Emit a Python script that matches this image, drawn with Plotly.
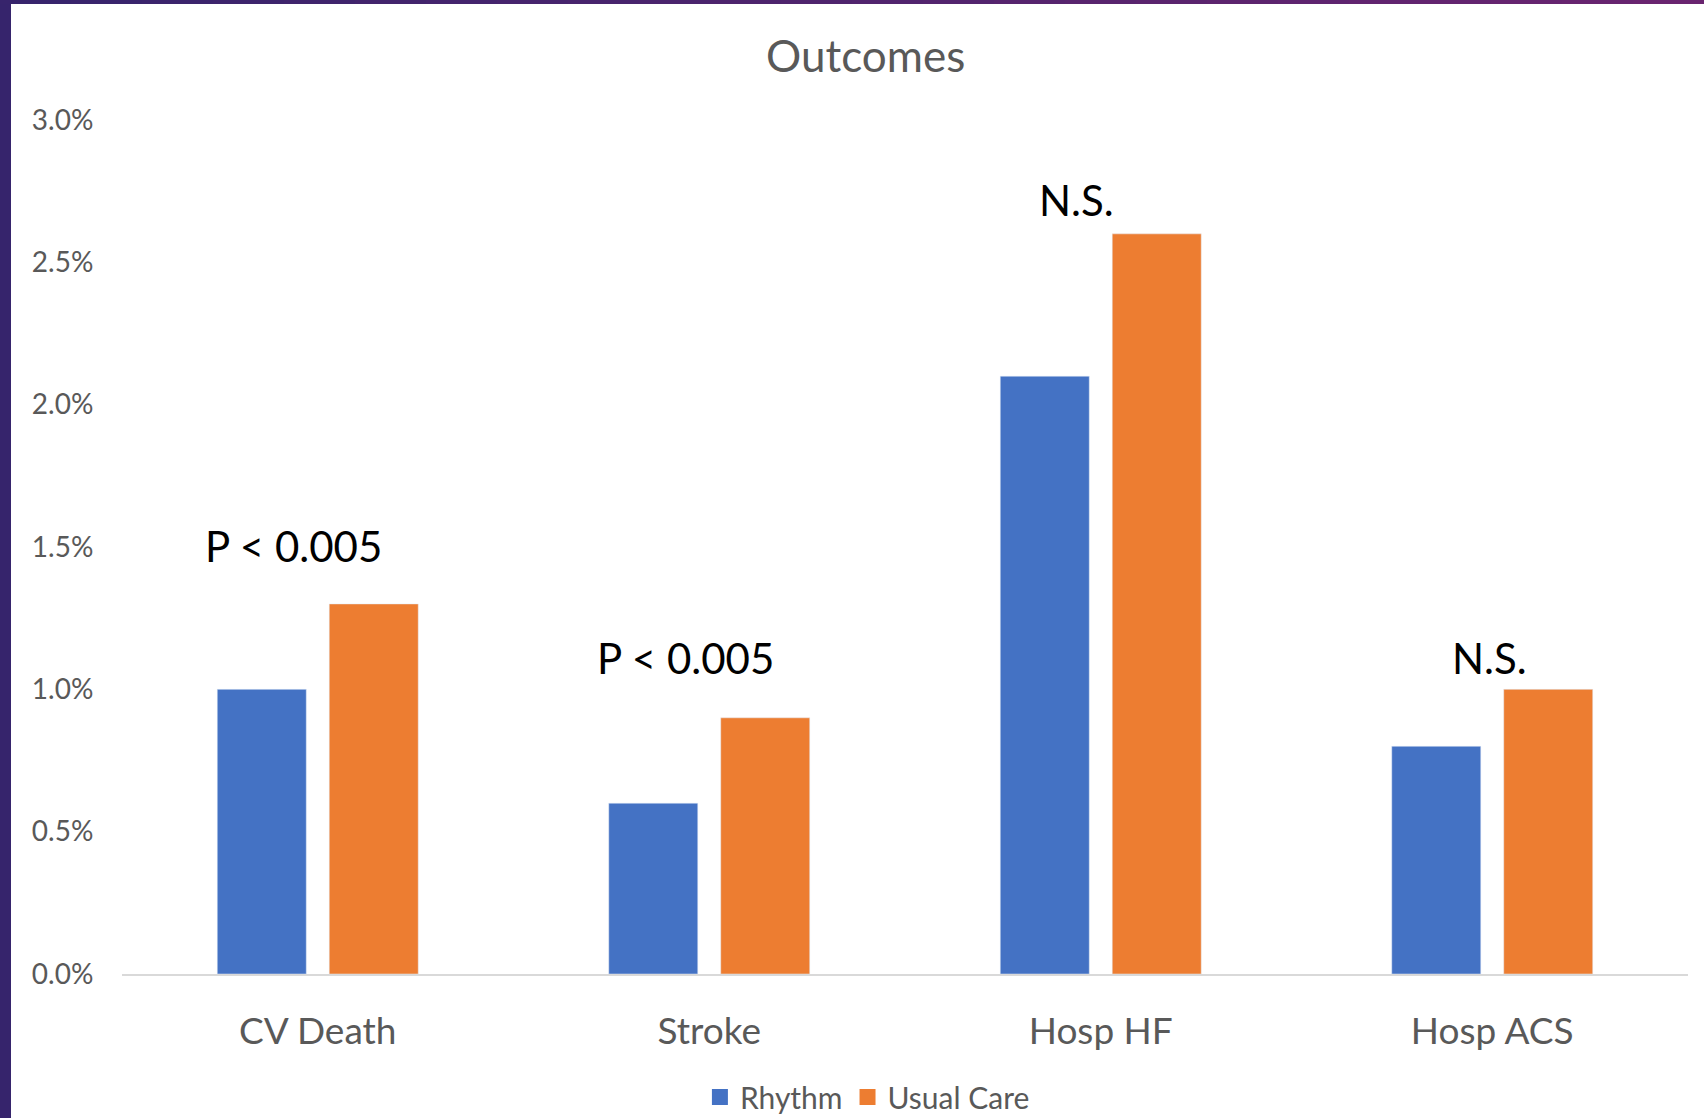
import plotly.graph_objects as go

categories = ["CV Death", "Stroke", "Hosp HF", "Hosp ACS"]
rhythm = [1.0, 0.6, 2.1, 0.8]
usual_care = [1.3, 0.9, 2.6, 1.0]
annot_text = ["P < 0.005", "P < 0.005", "N.S.", "N.S."]
annot_y = [1.505, 1.11, 2.72, 1.11]
tick_vals = [0, 0.5, 1.0, 1.5, 2.0, 2.5, 3.0]
tick_text = ["0.0%", "0.5%", "1.0%", "1.5%", "2.0%", "2.5%", "3.0%"]

FONT = "Lato"
GREY = "#595959"
BLUE = "#4472C4"
ORANGE = "#ED7D31"

W, H = 1704, 1118
ML, MR, MT, MB = 122, 16, 120, 144
PW, PH = W - ML - MR, H - MT - MB


def px_x(p):
    return (p - ML) / PW


def px_y(p):
    return (H - MB - p) / PH


fig = go.Figure()
fig.add_trace(go.Bar(name="Rhythm", x=categories, y=rhythm, marker_color=BLUE, showlegend=False))
fig.add_trace(go.Bar(name="Usual Care", x=categories, y=usual_care, marker_color=ORANGE, showlegend=False))
# legend entries with larger square swatches
for name, col in [("Rhythm", BLUE), ("Usual Care", ORANGE)]:
    fig.add_trace(go.Scatter(name=name, x=[None], y=[None], mode="markers",
                             marker=dict(symbol="square", size=18, color=col), hoverinfo="skip"))

xshifts = [-24, -24, -24, -3]
for c, t, y, xs in zip(categories, annot_text, annot_y, xshifts):
    fig.add_annotation(x=c, y=y, text=t, showarrow=False, xshift=xs,
                       font=dict(family=FONT, size=42, color="#000000"),
                       xanchor="center", yanchor="middle")

# decorative frame: dark purple strip on the left, gradient strip on top
fig.add_shape(type="rect", xref="paper", yref="paper",
              x0=px_x(0), x1=px_x(11), y0=px_y(H), y1=px_y(0),
              fillcolor="#36246c", line_width=0, layer="above")
c0 = (0x36, 0x24, 0x6c)
c1 = (0x6b, 0x24, 0x70)
n = 24
for i in range(n):
    f = (i + 0.5) / n
    col = "rgb(%d,%d,%d)" % tuple(int(a + (b - a) * f) for a, b in zip(c0, c1))
    fig.add_shape(type="rect", xref="paper", yref="paper",
                  x0=px_x(W * i / n), x1=px_x(W * (i + 1) / n + 1),
                  y0=px_y(4), y1=px_y(0), fillcolor=col, line_width=0, layer="above")

fig.update_layout(
    width=W, height=H, autosize=False,
    margin=dict(l=ML, r=MR, t=MT, b=MB, autoexpand=False),
    paper_bgcolor="white", plot_bgcolor="white",
    barmode="group", bargap=0.428, bargroupgap=0.205,
    title=dict(text="Outcomes", x=0.508, xref="container", xanchor="center",
               y=1 - 57 / H, yref="container", yanchor="middle",
               font=dict(family=FONT, size=44, color=GREY)),
    font=dict(family=FONT, color=GREY),
    showlegend=True,
    legend=dict(orientation="h", x=0.476, xanchor="center", y=-0.144, yanchor="middle",
                font=dict(family=FONT, size=30, color=GREY), bgcolor="rgba(0,0,0,0)",
                traceorder="normal"),
)
fig.update_xaxes(showgrid=False, showline=True, linecolor="#d9d9d9", linewidth=2,
                 ticks="outside", ticklen=24, tickcolor="rgba(0,0,0,0)",
                 tickfont=dict(family=FONT, size=37, color=GREY), zeroline=False)
fig.update_yaxes(range=[0, 3.0], tickvals=tick_vals, ticktext=tick_text, showgrid=False,
                 showline=False, zeroline=False, ticks="outside", ticklen=22,
                 tickcolor="rgba(0,0,0,0)", tickfont=dict(family=FONT, size=28, color=GREY))

post = """
var de = document.documentElement, b = document.body;
de.style.margin = '0'; de.style.overflow = 'hidden';
b.style.margin = '0'; b.style.overflow = 'hidden';
"""

fig.write_html("out.html",
               config={"responsive": False, "displayModeBar": False},
               post_script=post)
